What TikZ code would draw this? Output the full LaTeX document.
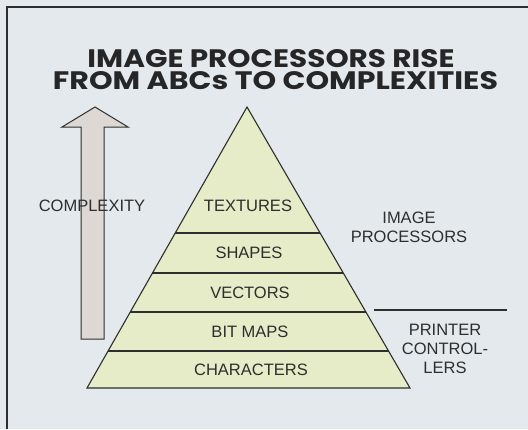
\documentclass[tikz,border=0pt]{standalone}
\usepackage{fontspec}
\setmainfont{Liberation Sans}
\newfontfamily\titlefont{Poppins}
\usetikzlibrary{calc}
\definecolor{bgc}{HTML}{E3E9ED}
\definecolor{pyrc}{HTML}{E6EBC8}
\definecolor{arrc}{HTML}{DDD8D4}
\definecolor{inkc}{HTML}{2E2E2E}
\tikzset{
  lbl/.style={font=\fontsize{16.5}{19}\selectfont, text=inkc, inner sep=0pt, align=center},
  tier/.style={draw=inkc, line width=1.1pt},
  ttl/.style={font=\titlefont\bfseries\fontsize{25}{28}\selectfont, text=black!85, inner sep=0pt}
}
\begin{document}
\begin{tikzpicture}[x=1pt,y=-1pt]
\useasboundingbox (0,0) rectangle (528,429);
\fill[bgc] (0,0) rectangle (528,429);
% frame
\draw[inkc, line width=1.6pt] (7,429) -- (7,7) -- (528,7);
% title
\node[ttl] (t1) at (271,59) {\resizebox{367pt}{18pt}{IMAGE PROCESSORS RISE}};
\node[ttl] (t2) at (275.5,81) {\resizebox{445pt}{18pt}{FROM ABCs TO COMPLEXITIES}};
% arrow
\draw[inkc, fill=arrc, line width=1pt, line join=miter]
  (81,339) -- (81,127) -- (62,127) -- (95,107) -- (128,127) -- (104,127) -- (104,339) -- cycle;
% pyramid
\coordinate (apex) at (247,107);
\coordinate (bl) at (87,388);
\coordinate (br) at (410,388);
\draw[tier, fill=pyrc, line join=miter] (apex) -- (bl) -- (br) -- cycle;
\foreach \t/\n in {0.4484/a,0.5907/b,0.7295/c,0.8683/d}{
  \draw[tier] ($(apex)!\t!(bl)$) coordinate (l\n) -- ($(apex)!\t!(br)$) coordinate (r\n);
}
\node[lbl] (tex) at (248,206) {TEXTURES};
\node[lbl] (shp) at (249,253) {SHAPES};
\node[lbl] (vec) at (250,293) {VECTORS};
\node[lbl] (bit) at (250,332) {BIT MAPS};
\node[lbl] (chr) at (251,370) {CHARACTERS};
\node[lbl] (cpx) at (92,206) {COMPLEXITY};
\node[lbl] (imp) at (409,227.5) {IMAGE\\PROCESSORS};
\node[lbl] (prc) at (445,349) {PRINTER\\CONTROL-\\LERS};
\coordinate (s1) at (374,310);
\coordinate (s2) at (507,310);
\draw[tier] (s1) -- (s2);
\end{tikzpicture}
\end{document}
